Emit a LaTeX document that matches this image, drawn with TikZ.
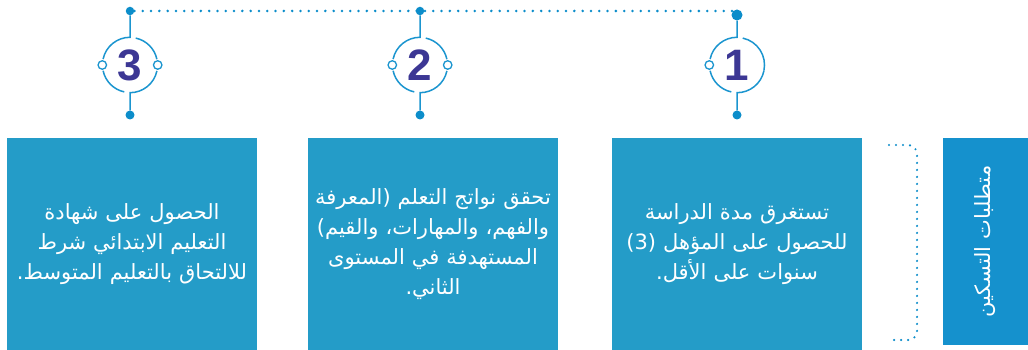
\documentclass[tikz,border=0pt]{standalone}
\usepackage{fontspec}
\setmainfont{Liberation Sans}
\newfontfamily\arabicfont[Script=Arabic]{DejaVu Sans}
\TeXXeTstate=1
\usetikzlibrary{positioning}

\definecolor{boxblue}{RGB}{36,156,200}
\definecolor{tagblue}{RGB}{21,145,205}
\definecolor{lineblue}{RGB}{27,149,207}
\definecolor{dotblue}{RGB}{12,141,202}
\definecolor{numpurple}{RGB}{60,55,148}

\begin{document}
\begin{tikzpicture}[x=1pt,y=1pt,
		infobox/.style={
				fill=boxblue,
				minimum width=250pt,
				minimum height=212pt,
				text width=250pt,
				align=center,
				text=white,
				inner sep=0pt,
				font=\arabicfont\fontsize{21}{30}\selectfont
			},
		ring/.style={circle,minimum size=55pt,inner sep=0pt,
				text=numpurple,font=\bfseries\fontsize{44}{44}\selectfont},
		ringline/.style={draw=lineblue,line width=1.5pt},
		pin/.style={circle,fill=dotblue,inner sep=0pt,minimum size=#1},
		knob/.style={circle,draw=lineblue,line width=1.3pt,fill=white,inner sep=0pt,minimum size=8.5pt},
		dotline/.style={draw=dotblue,line width=2.8pt,line cap=round,dash pattern=on 0pt off 8.3pt}]
	
	\useasboundingbox (0,0) rectangle (1028,350);
	
	% requirement boxes
	\node(step3)[infobox] at (132,106){\beginR الحصول على شهادة\endR\\\beginR التعليم الابتدائي شرط\endR\\\beginR للالتحاق بالتعليم المتوسط.\endR};
	
	\node(step2)[infobox] at (433,106){\beginR تحقق نواتج التعلم (المعرفة\endR\\\beginR والفهم، والمهارات، والقيم)\endR\\\beginR المستهدفة في المستوى\endR\\\beginR الثاني.\endR};
	
	\node(step1)[infobox] at (737,106){\beginR تستغرق مدة الدراسة\endR\\\beginR للحصول على المؤهل (3)\endR\\\beginR سنوات على الأقل.\endR};
	
	\node(tag)[fill=tagblue,minimum width=85pt,minimum height=207pt] at (985.5,108.5){};
	\node[rotate=90,text=white,font=\arabicfont\fontsize{21}{24}\selectfont] at (tag.center){\beginR متطلبات التسكين\endR};
	
	% bracket
	\draw[dotblue,line width=2.4pt,line cap=round,dash pattern=on 0pt off 7pt,rounded corners=9pt]
		(889,205)--(917,205)--(917,10)--(889,10);
	
	% numbered rings
	\foreach \n/\cx/\dy/\ds in {3/130/339/8.5pt,2/420/339/8.5pt,1/737/335/11pt}{
		\node(ring\n)[ring] at (\cx,285){\n};
		\node(top\n)[pin=\ds] at (\cx,\dy){};
		\node(bot\n)[pin=9pt] at (\cx,235){};
		\draw[ringline](top\n)--(ring\n.north) arc[start angle=90,end angle=168,radius=27.5];
		\draw[ringline]([shift={(192:27.5)}]ring\n.center) arc[start angle=192,end angle=258,radius=27.5];
		\draw[ringline](bot\n)--(ring\n.south) arc[start angle=270,end angle=348,radius=27.5];
		\node[knob] at (ring\n.west){};
	}
	
	\draw[ringline]([shift={(12:27.5)}]ring3.center) arc[start angle=12,end angle=78,radius=27.5];
	\draw[ringline]([shift={(12:27.5)}]ring2.center) arc[start angle=12,end angle=78,radius=27.5];
	\draw[ringline]([shift={(348:27.5)}]ring1.center) arc[start angle=-12,end angle=78,radius=27.5];
	\node[knob] at (ring3.east){};
	\node[knob] at (ring2.east){};
	
	\draw[dotline](top3)--(top3 -| top1);
	
\end{tikzpicture}
\end{document}
